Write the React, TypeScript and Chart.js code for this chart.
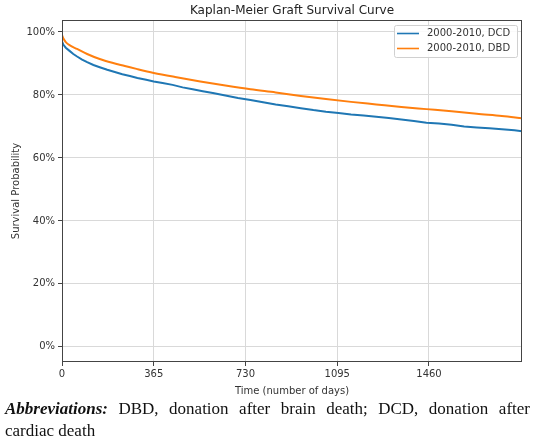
import React, { useEffect, useRef } from 'react';
import { Chart, registerables } from 'chart.js';

Chart.register(...registerables);

// Kaplan-Meier estimates (days, survival probability)
const dcdDays = [0, 5, 15, 30, 45, 60, 80, 100, 125, 150, 180, 210, 240, 270, 300, 335, 365, 400, 440, 480, 520, 560, 600, 650, 700, 750, 800, 850, 900, 950, 1000, 1050, 1100, 1150, 1200, 1250, 1300, 1350, 1400, 1450, 1500, 1550, 1600, 1650, 1700, 1750, 1800, 1830];
const dcdSurvival = [0.97, 0.96, 0.95, 0.94, 0.93, 0.922, 0.912, 0.904, 0.895, 0.888, 0.88, 0.873, 0.866, 0.86, 0.854, 0.848, 0.843, 0.838, 0.832, 0.824, 0.818, 0.812, 0.806, 0.798, 0.79, 0.784, 0.777, 0.77, 0.764, 0.758, 0.752, 0.747, 0.743, 0.738, 0.735, 0.731, 0.727, 0.722, 0.717, 0.712, 0.709, 0.705, 0.7, 0.697, 0.694, 0.691, 0.688, 0.685];

const dbdDays = [0, 5, 15, 30, 60, 100, 150, 200, 250, 300, 365, 450, 550, 650, 750, 850, 950, 1050, 1150, 1250, 1350, 1450, 1550, 1650, 1750, 1830];
const dbdSurvival = [0.99, 0.98, 0.968, 0.958, 0.946, 0.93, 0.914, 0.902, 0.892, 0.882, 0.87, 0.857, 0.843, 0.83, 0.818, 0.808, 0.797, 0.787, 0.778, 0.77, 0.762, 0.755, 0.748, 0.74, 0.733, 0.726];

const seriesLabels = ['2000-2010, DCD', '2000-2010, DBD'];
const xTicks = [0, 365, 730, 1095, 1460];
const yTicks = [0, 0.2, 0.4, 0.6, 0.8, 1.0];

const FONT = 'DejaVu Sans';
const TEXT = '#333';

// matplotlib style frame and boxed legend in the upper right corner
const frameAndLegend = {
    id: 'frameAndLegend',
    afterDraw(chart: any) {
        const { ctx, chartArea: a } = chart;
        ctx.save();
        ctx.strokeStyle = '#444';
        ctx.lineWidth = 1;
        ctx.strokeRect(a.left + 0.5, a.top + 0.5, a.right - a.left - 1, a.bottom - a.top - 1);

        const w = 123;
        const h = 32;
        const x = a.right - 5 - w;
        const y = a.top + 5;
        ctx.fillStyle = 'rgba(255,255,255,0.85)';
        ctx.strokeStyle = '#d0d0d0';
        ctx.beginPath();
        ctx.roundRect(x + 0.5, y + 0.5, w, h, 2);
        ctx.fill();
        ctx.stroke();

        ctx.font = `10px "${FONT}"`;
        ctx.textBaseline = 'middle';
        chart.data.datasets.forEach((ds: any, i: number) => {
            const ry = y + 8.5 + i * 15;
            ctx.strokeStyle = ds.borderColor;
            ctx.lineWidth = 1.6;
            ctx.beginPath();
            ctx.moveTo(x + 3, ry);
            ctx.lineTo(x + 25, ry);
            ctx.stroke();
            ctx.fillStyle = TEXT;
            ctx.fillText(ds.label, x + 33, ry);
        });
        ctx.restore();
    },
};

const App: React.FC = () => {
    const canvasRef = useRef<HTMLCanvasElement>(null);

    useEffect(() => {
        if (!canvasRef.current) return;
        const chart = new Chart(canvasRef.current, {
            type: 'line',
            data: {
                datasets: [
                    {
                        label: seriesLabels[0],
                        data: dcdDays.map((d, i) => ({ x: d, y: dcdSurvival[i] })),
                        borderColor: '#1f77b4',
                        borderWidth: 2,
                        pointRadius: 0,
                        tension: 0,
                    },
                    {
                        label: seriesLabels[1],
                        data: dbdDays.map((d, i) => ({ x: d, y: dbdSurvival[i] })),
                        borderColor: '#ff7f0e',
                        borderWidth: 2,
                        pointRadius: 0,
                        cubicInterpolationMode: 'monotone',
                    },
                ],
            },
            options: {
                animation: false,
                responsive: true,
                maintainAspectRatio: false,
                layout: { padding: { left: 0, right: 12, top: 0, bottom: 0 } },
                plugins: {
                    legend: { display: false },
                    tooltip: { enabled: false },
                    title: {
                        display: true,
                        fullSize: false,
                        text: 'Kaplan-Meier Graft Survival Curve',
                        color: '#222',
                        font: { family: FONT, size: 12, weight: 'normal', lineHeight: 1.2 },
                        padding: { top: 4, bottom: 1.6 },
                    },
                },
                scales: {
                    x: {
                        type: 'linear',
                        min: 0,
                        max: 1830,
                        afterBuildTicks: (s: any) => {
                            s.ticks = xTicks.map((v) => ({ value: v }));
                        },
                        afterFit: (s: any) => {
                            s.height = 37;
                        },
                        grid: { color: '#d9d9d9', tickLength: 4, tickColor: '#444' },
                        border: { display: false },
                        ticks: {
                            color: TEXT,
                            font: { family: FONT, size: 10 },
                            padding: 2,
                            maxRotation: 0,
                            autoSkip: false,
                            callback: (v: any) => String(v),
                        },
                        title: {
                            display: true,
                            text: 'Time (number of days)',
                            color: TEXT,
                            font: { family: FONT, size: 10 },
                            padding: { top: 0, bottom: 2 },
                        },
                    },
                    y: {
                        type: 'linear',
                        min: -0.048,
                        max: 1.038,
                        afterBuildTicks: (s: any) => {
                            s.ticks = yTicks.map((v) => ({ value: v }));
                        },
                        afterFit: (s: any) => {
                            s.width = 62;
                        },
                        grid: { color: '#d9d9d9', tickLength: 4, tickColor: '#444' },
                        border: { display: false },
                        ticks: {
                            color: TEXT,
                            font: { family: FONT, size: 10 },
                            padding: 3,
                            callback: (v: any) => `${Math.round(Number(v) * 100)}%`,
                        },
                        title: {
                            display: true,
                            text: 'Survival Probability',
                            color: TEXT,
                            font: { family: FONT, size: 10 },
                            padding: { top: 10, bottom: 0 },
                        },
                    },
                },
            },
            plugins: [frameAndLegend],
        });

        return () => {
            chart.destroy();
        };
    }, []);

    const caption: React.CSSProperties = {
        fontFamily: '"Liberation Serif", serif',
        fontSize: 17,
        lineHeight: '22px',
        color: '#111',
    };

    return (
        <div style={{ position: 'absolute', left: 0, top: 0, width: 534, height: 443, background: '#fff' }}>
            <div style={{ position: 'absolute', left: 0, top: 0, width: 534, height: 399 }}>
                <canvas ref={canvasRef} />
            </div>
            <div style={{ position: 'absolute', left: 5, top: 398, width: 525 }}>
                <div style={{ ...caption, textAlign: 'justify', textAlignLast: 'justify' }}>
                    <b><i>Abbreviations:</i></b> DBD, donation after brain death; DCD, donation after
                </div>
                <div style={caption}>cardiac death</div>
            </div>
        </div>
    );
};

export default App;
